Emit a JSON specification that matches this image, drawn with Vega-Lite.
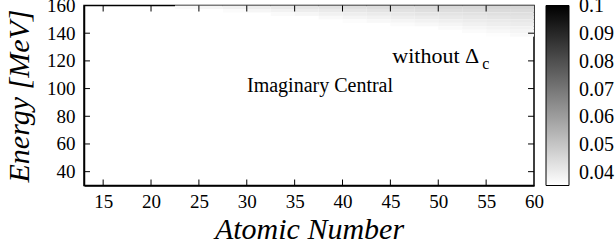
{
  "$schema": "https://vega.github.io/schema/vega-lite/v6.json",
  "width": 450,
  "height": 180,
  "autosize": {"type": "none"},
  "padding": {"left": 84, "top": 5.5, "right": 82, "bottom": 62.5},
  "background": "white",
  "config": {
    "view": {"stroke": "black", "strokeWidth": 1.5},
    "font": "Liberation Serif",
    "axis": {
      "ticks": false,
      "grid": false,
      "domainColor": "black",
      "domainWidth": 1.5,
      "labelFont": "Liberation Serif",
      "labelFontSize": 19,
      "labelColor": "black",
      "labelFlush": false,
      "labelOverlap": false,
      "titleFont": "Liberation Serif",
      "titleFontSize": 30,
      "titleFontStyle": "italic",
      "titleFontWeight": "normal",
      "titleColor": "black"
    }
  },
  "resolve": {"axis": {"x": "independent", "y": "independent"}},
  "datasets": {
    "xticks": [{"t": 15}, {"t": 20}, {"t": 25}, {"t": 30}, {"t": 35}, {"t": 40}, {"t": 45}, {"t": 50}, {"t": 55}],
    "yticks": [{"t": 40}, {"t": 60}, {"t": 80}, {"t": 100}, {"t": 120}, {"t": 140}]
  },
  "layer": [
    {
      "data": {
        "values": [
          {"z0": 22.5, "z1": 25, "e0": 157.5, "e1": 160, "v": 0.037},
          {"z0": 25, "z1": 27.5, "e0": 157.5, "e1": 160, "v": 0.038},
          {"z0": 27.5, "z1": 30, "e0": 157.5, "e1": 160, "v": 0.039},
          {"z0": 27.5, "z1": 30, "e0": 155, "e1": 157.5, "v": 0.0365},
          {"z0": 30, "z1": 32.5, "e0": 157.5, "e1": 160, "v": 0.040},
          {"z0": 30, "z1": 32.5, "e0": 155, "e1": 157.5, "v": 0.0377},
          {"z0": 32.5, "z1": 35, "e0": 157.5, "e1": 160, "v": 0.041},
          {"z0": 32.5, "z1": 35, "e0": 155, "e1": 157.5, "v": 0.0389},
          {"z0": 32.5, "z1": 35, "e0": 152.5, "e1": 155, "v": 0.0368},
          {"z0": 35, "z1": 37.5, "e0": 157.5, "e1": 160, "v": 0.042},
          {"z0": 35, "z1": 37.5, "e0": 155, "e1": 157.5, "v": 0.040},
          {"z0": 35, "z1": 37.5, "e0": 152.5, "e1": 155, "v": 0.0379},
          {"z0": 37.5, "z1": 40, "e0": 157.5, "e1": 160, "v": 0.0428},
          {"z0": 37.5, "z1": 40, "e0": 155, "e1": 157.5, "v": 0.0409},
          {"z0": 37.5, "z1": 40, "e0": 152.5, "e1": 155, "v": 0.039},
          {"z0": 37.5, "z1": 40, "e0": 150, "e1": 152.5, "v": 0.037},
          {"z0": 40, "z1": 42.5, "e0": 157.5, "e1": 160, "v": 0.0435},
          {"z0": 40, "z1": 42.5, "e0": 155, "e1": 157.5, "v": 0.0417},
          {"z0": 40, "z1": 42.5, "e0": 152.5, "e1": 155, "v": 0.0399},
          {"z0": 40, "z1": 42.5, "e0": 150, "e1": 152.5, "v": 0.0381},
          {"z0": 40, "z1": 42.5, "e0": 147.5, "e1": 150, "v": 0.0362},
          {"z0": 42.5, "z1": 45, "e0": 157.5, "e1": 160, "v": 0.044},
          {"z0": 42.5, "z1": 45, "e0": 155, "e1": 157.5, "v": 0.0423},
          {"z0": 42.5, "z1": 45, "e0": 152.5, "e1": 155, "v": 0.0406},
          {"z0": 42.5, "z1": 45, "e0": 150, "e1": 152.5, "v": 0.0389},
          {"z0": 42.5, "z1": 45, "e0": 147.5, "e1": 150, "v": 0.0372},
          {"z0": 45, "z1": 47.5, "e0": 157.5, "e1": 160, "v": 0.0445},
          {"z0": 45, "z1": 47.5, "e0": 155, "e1": 157.5, "v": 0.0429},
          {"z0": 45, "z1": 47.5, "e0": 152.5, "e1": 155, "v": 0.0413},
          {"z0": 45, "z1": 47.5, "e0": 150, "e1": 152.5, "v": 0.0397},
          {"z0": 45, "z1": 47.5, "e0": 147.5, "e1": 150, "v": 0.0381},
          {"z0": 45, "z1": 47.5, "e0": 145, "e1": 147.5, "v": 0.0365},
          {"z0": 47.5, "z1": 50, "e0": 157.5, "e1": 160, "v": 0.045},
          {"z0": 47.5, "z1": 50, "e0": 155, "e1": 157.5, "v": 0.0435},
          {"z0": 47.5, "z1": 50, "e0": 152.5, "e1": 155, "v": 0.042},
          {"z0": 47.5, "z1": 50, "e0": 150, "e1": 152.5, "v": 0.0404},
          {"z0": 47.5, "z1": 50, "e0": 147.5, "e1": 150, "v": 0.0389},
          {"z0": 47.5, "z1": 50, "e0": 145, "e1": 147.5, "v": 0.0374},
          {"z0": 50, "z1": 52.5, "e0": 157.5, "e1": 160, "v": 0.0453},
          {"z0": 50, "z1": 52.5, "e0": 155, "e1": 157.5, "v": 0.0439},
          {"z0": 50, "z1": 52.5, "e0": 152.5, "e1": 155, "v": 0.0424},
          {"z0": 50, "z1": 52.5, "e0": 150, "e1": 152.5, "v": 0.041},
          {"z0": 50, "z1": 52.5, "e0": 147.5, "e1": 150, "v": 0.0396},
          {"z0": 50, "z1": 52.5, "e0": 145, "e1": 147.5, "v": 0.0381},
          {"z0": 50, "z1": 52.5, "e0": 142.5, "e1": 145, "v": 0.0367},
          {"z0": 52.5, "z1": 55, "e0": 157.5, "e1": 160, "v": 0.0455},
          {"z0": 52.5, "z1": 55, "e0": 155, "e1": 157.5, "v": 0.0442},
          {"z0": 52.5, "z1": 55, "e0": 152.5, "e1": 155, "v": 0.0429},
          {"z0": 52.5, "z1": 55, "e0": 150, "e1": 152.5, "v": 0.0416},
          {"z0": 52.5, "z1": 55, "e0": 147.5, "e1": 150, "v": 0.0403},
          {"z0": 52.5, "z1": 55, "e0": 145, "e1": 147.5, "v": 0.039},
          {"z0": 52.5, "z1": 55, "e0": 142.5, "e1": 145, "v": 0.0377},
          {"z0": 52.5, "z1": 55, "e0": 140, "e1": 142.5, "v": 0.0364},
          {"z0": 55, "z1": 57.5, "e0": 157.5, "e1": 160, "v": 0.0458},
          {"z0": 55, "z1": 57.5, "e0": 155, "e1": 157.5, "v": 0.0446},
          {"z0": 55, "z1": 57.5, "e0": 152.5, "e1": 155, "v": 0.0434},
          {"z0": 55, "z1": 57.5, "e0": 150, "e1": 152.5, "v": 0.0422},
          {"z0": 55, "z1": 57.5, "e0": 147.5, "e1": 150, "v": 0.0409},
          {"z0": 55, "z1": 57.5, "e0": 145, "e1": 147.5, "v": 0.0397},
          {"z0": 55, "z1": 57.5, "e0": 142.5, "e1": 145, "v": 0.0385},
          {"z0": 55, "z1": 57.5, "e0": 140, "e1": 142.5, "v": 0.0373},
          {"z0": 55, "z1": 57.5, "e0": 137.5, "e1": 140, "v": 0.0361},
          {"z0": 57.5, "z1": 60, "e0": 157.5, "e1": 160, "v": 0.0458},
          {"z0": 57.5, "z1": 60, "e0": 155, "e1": 157.5, "v": 0.0447},
          {"z0": 57.5, "z1": 60, "e0": 152.5, "e1": 155, "v": 0.0436},
          {"z0": 57.5, "z1": 60, "e0": 150, "e1": 152.5, "v": 0.0425},
          {"z0": 57.5, "z1": 60, "e0": 147.5, "e1": 150, "v": 0.0414},
          {"z0": 57.5, "z1": 60, "e0": 145, "e1": 147.5, "v": 0.0402},
          {"z0": 57.5, "z1": 60, "e0": 142.5, "e1": 145, "v": 0.0391},
          {"z0": 57.5, "z1": 60, "e0": 140, "e1": 142.5, "v": 0.038},
          {"z0": 57.5, "z1": 60, "e0": 137.5, "e1": 140, "v": 0.0369}
        ]
      },
      "mark": {"type": "rect", "strokeWidth": 0},
      "encoding": {
        "x": {
          "field": "z0", "type": "quantitative",
          "scale": {"domain": [13, 60], "nice": false, "zero": false},
          "axis": {
            "orient": "bottom",
            "values": [15, 20, 25, 30, 35, 40, 45, 50, 55, 60],
            "labelOverlap": false,
            "labelPadding": 7,
            "title": "Atomic Number",
            "titleX": 225, "titleY": 53, "titleBaseline": "alphabetic"
          }
        },
        "x2": {"field": "z1"},
        "y": {
          "field": "e0", "type": "quantitative",
          "scale": {"domain": [30, 160], "nice": false, "zero": false},
          "axis": {
            "orient": "left",
            "values": [40, 60, 80, 100, 120, 140, 160],
            "labelOverlap": false,
            "labelPadding": 9,
            "title": "Energy [MeV]",
            "titleX": -56, "titleY": 90, "titleBaseline": "alphabetic", "titleAngle": -90, "titleAlign": "center"
          }
        },
        "y2": {"field": "e1"},
        "color": {
          "field": "v", "type": "quantitative",
          "scale": {"domain": [0.0355, 0.1002], "range": ["#ffffff", "#000000"], "interpolate": "rgb", "clamp": true},
          "legend": {
            "type": "gradient", "direction": "vertical",
            "orient": "none", "legendX": 462, "legendY": 0,
            "title": null, "padding": 0,
            "gradientLength": 180, "gradientThickness": 23,
            "gradientStrokeColor": "black", "gradientStrokeWidth": 1,
            "values": [0.04, 0.05, 0.06, 0.07, 0.08, 0.09, 0.1],
            "format": ".2~f",
            "labelFont": "Liberation Serif", "labelFontSize": 20, "labelColor": "black",
            "labelBaseline": "middle",
            "labelOffset": 10, "labelOverlap": false
          }
        }
      }
    },
    {
      "data": {"name": "xticks"},
      "mark": {"type": "tick", "color": "black", "orient": "vertical", "size": 6, "thickness": 1, "opacity": 1},
      "encoding": {
        "x": {"field": "t", "type": "quantitative", "axis": null},
        "y": {"datum": 32.17, "type": "quantitative", "axis": null}
      }
    },
    {
      "data": {"name": "xticks"},
      "mark": {"type": "tick", "color": "black", "orient": "vertical", "size": 6, "thickness": 1, "opacity": 1},
      "encoding": {
        "x": {"field": "t", "type": "quantitative", "axis": null},
        "y": {"datum": 157.83, "type": "quantitative", "axis": null}
      }
    },
    {
      "data": {"name": "yticks"},
      "mark": {"type": "tick", "color": "black", "orient": "horizontal", "size": 6, "thickness": 1, "opacity": 1},
      "encoding": {
        "y": {"field": "t", "type": "quantitative", "axis": null},
        "x": {"datum": 13.31, "type": "quantitative", "axis": null}
      }
    },
    {
      "data": {"name": "yticks"},
      "mark": {"type": "tick", "color": "black", "orient": "horizontal", "size": 6, "thickness": 1, "opacity": 1},
      "encoding": {
        "y": {"field": "t", "type": "quantitative", "axis": null},
        "x": {"datum": 59.69, "type": "quantitative", "axis": null}
      }
    },
    {
      "data": {"values": [{"label": "Imaginary Central"}]},
      "mark": {"type": "text", "font": "Liberation Serif", "fontSize": 20, "align": "center", "baseline": "alphabetic", "color": "black"},
      "encoding": {
        "text": {"field": "label"},
        "x": {"datum": 37.65, "type": "quantitative", "axis": null},
        "y": {"datum": 97.5, "type": "quantitative", "axis": null}
      }
    },
    {
      "data": {"values": [{"label": "without Δ"}]},
      "mark": {"type": "text", "font": "Liberation Serif", "fontSize": 22, "align": "left", "baseline": "alphabetic", "color": "black"},
      "encoding": {
        "text": {"field": "label"},
        "x": {"datum": 45.2, "type": "quantitative", "axis": null},
        "y": {"datum": 118.5, "type": "quantitative", "axis": null}
      }
    },
    {
      "data": {"values": [{"label": "c"}]},
      "mark": {"type": "text", "font": "Liberation Serif", "fontSize": 16, "align": "left", "baseline": "alphabetic", "color": "black"},
      "encoding": {
        "text": {"field": "label"},
        "x": {"datum": 54.6, "type": "quantitative", "axis": null},
        "y": {"datum": 114.2, "type": "quantitative", "axis": null}
      }
    }
  ]
}
